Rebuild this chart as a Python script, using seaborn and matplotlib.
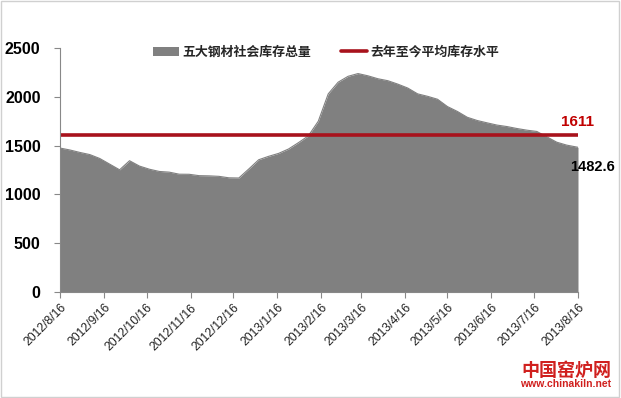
import numpy as np
import pandas as pd
import matplotlib
matplotlib.use("Agg")
import matplotlib.pyplot as plt
import matplotlib.dates as mdates
from matplotlib.patches import Patch, Rectangle
from matplotlib.lines import Line2D
import seaborn as sns

# ---------------- data ----------------
start_date = "2012-08-16"
n_weeks = 53
stock_values = [1475, 1455, 1430, 1408, 1368, 1310, 1252, 1345, 1290, 1258,
                1235, 1228, 1207, 1206, 1192, 1190, 1185, 1170, 1168, 1260,
                1355, 1390, 1420, 1465, 1530, 1600, 1750, 2030, 2150, 2210,
                2238, 2215, 2185, 2165, 2130, 2090, 2030, 2005, 1975, 1900,
                1850, 1790, 1757, 1733, 1710, 1695, 1675, 1658, 1645, 1590,
                1535, 1505, 1482.6]
avg_level = 1611
tick_labels = ["2012/8/16", "2012/9/16", "2012/10/16", "2012/11/16", "2012/12/16",
               "2013/1/16", "2013/2/16", "2013/3/16", "2013/4/16", "2013/5/16",
               "2013/6/16", "2013/7/16", "2013/8/16"]
series_name = "五大钢材社会库存总量"
avg_name = "去年至今平均库存水平"
y_ticks = [0, 500, 1000, 1500, 2000, 2500]

dates = list(pd.date_range(start_date, periods=n_weeks, freq="7D"))
dates[-1] = pd.Timestamp("2013-08-16")
df = pd.DataFrame({"date": dates, "value": stock_values})
tick_dates = [pd.Timestamp(t.replace("/", "-")) for t in tick_labels]
avg_df = pd.DataFrame({"date": [dates[0], dates[-1]], "value": [avg_level, avg_level]})

# ---------------- style ----------------
sns.set_theme(style="white")
plt.rcParams["font.family"] = ["Liberation Sans", "Noto Sans CJK SC", "DejaVu Sans"]

GRAY = "#808080"
RED = "#A8121C"

fig = plt.figure(figsize=(6.21, 3.98), dpi=100)
ax = fig.add_axes([60 / 621, 1 - 292 / 398, (578 - 60) / 621, (292 - 48) / 398])

ax.fill_between(df["date"], 0, df["value"], color=GRAY, linewidth=0)
sns.lineplot(data=df, x="date", y="value", ax=ax, color=GRAY, linewidth=0.8)
sns.lineplot(data=avg_df, x="date", y="value", ax=ax, color=RED, linewidth=2.6)

ax.set_xlim(dates[0], dates[-1])
ax.set_ylim(0, 2500)
ax.set_yticks(y_ticks)
ax.set_yticklabels([str(v) for v in y_ticks], fontsize=11.5, fontweight="bold",
                   color="black", family=["Liberation Sans"])
ax.set_xticks(tick_dates)
ax.set_xticklabels(tick_labels, rotation=45, ha="right", rotation_mode="anchor",
                   fontsize=8.8, color="#222222", family=["Liberation Sans"])
ax.set_xlabel("")
ax.set_ylabel("")

for s in ["top", "right"]:
    ax.spines[s].set_visible(False)
for s in ["left", "bottom"]:
    ax.spines[s].set_color("#888888")
    ax.spines[s].set_linewidth(0.8)
ax.tick_params(axis="both", which="both", direction="out", length=4, width=0.8,
               color="#888888", left=True, bottom=True, pad=3)
ax.tick_params(axis="y", pad=10)
ax.grid(False)

# end annotations
ax.text(dates[-1], avg_level + 60, "1611", color="#C00000", fontsize=11,
        fontweight="bold", ha="center", va="bottom", family=["Liberation Sans"])
ax.text(dates[-1] + pd.Timedelta(days=10), stock_values[-1] - 130, "1482.6",
        color="black", fontsize=10.5, fontweight="bold", ha="center", va="top",
        family=["Liberation Sans"], clip_on=False)

# legend
handles = [Patch(facecolor=GRAY, edgecolor="none"),
           Line2D([0], [0], color=RED, linewidth=2.6)]
leg = fig.legend(handles, [series_name, avg_name], loc="center",
                 bbox_to_anchor=(0.525, 1 - 52 / 398), ncol=2, frameon=False,
                 prop={"family": ["Noto Sans CJK SC"], "weight": "bold", "size": 9.3},
                 handlelength=2.0, handletextpad=0.3, columnspacing=2.3,
                 borderpad=0.1)

# watermark
fig.text(611 / 621, 1 - 370 / 398, "中国窑炉网", color="#D0201E", fontsize=13,
         fontweight="bold", ha="right", va="center", family=["Noto Sans CJK SC"])
fig.text(611 / 621, 1 - 384 / 398, "www.chinakiln.net", color="#D0201E", fontsize=7.5,
         fontweight="bold", ha="right", va="center", family=["Liberation Sans"])

# chart-area border
fig.patches.append(Rectangle((0.001, 0.003), 0.996, 0.994, transform=fig.transFigure,
                             fill=False, edgecolor="#D0D0D0", linewidth=1.0))

fig.savefig("out.png", dpi=100)
